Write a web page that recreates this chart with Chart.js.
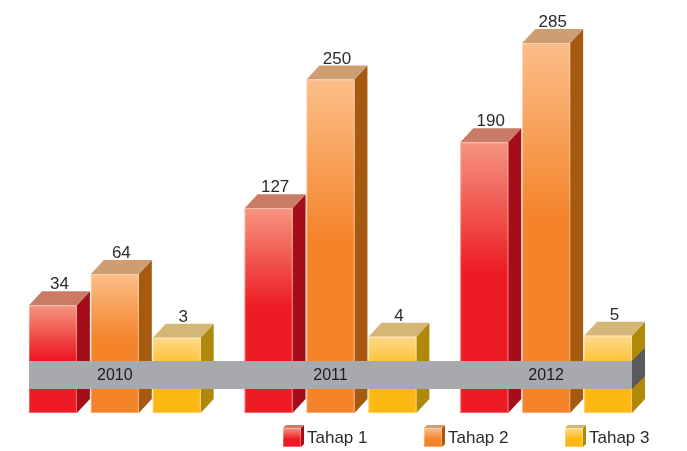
<!DOCTYPE html>
<html>
<head>
<meta charset="utf-8">
<script src="https://cdn.jsdelivr.net/npm/chart.js@4"></script>
<style>
  body { margin: 0; background: #fff; }
  #wrap { width: 687px; height: 451px; position: relative; }
</style>
</head>
<body>
<div id="wrap"><canvas id="chart"></canvas></div>
<script>
// Data
const years = ['2010', '2011', '2012'];
const seriesNames = ['Tahap 1', 'Tahap 2', 'Tahap 3'];
const tahap1 = [34, 127, 190];
const tahap2 = [64, 250, 285];
const tahap3 = [3, 4, 5];

// bars start below zero so the tiny values still show a block above the band
const axisMin = -69;
const axisMax = 307;

const palettes = [
    { light: '#f5957f', main: '#ed1c24', top: '#c97b66', side: '#a50e18' },
    { light: '#fbbe88', main: '#f4832a', top: '#ce9d72', side: '#a65a10' },
    { light: '#fed98c', main: '#fdb813', top: '#d4b677', side: '#b0880a' }
];

const DEPTH_X = 13;
const DEPTH_Y = 14;

function drawBox(ctx, x, y, w, h, dx, dy, pal, gradStop) {
    // right side
    ctx.fillStyle = pal.side;
    ctx.beginPath();
    ctx.moveTo(x + w, y);
    ctx.lineTo(x + w + dx, y - dy);
    ctx.lineTo(x + w + dx, y + h - dy);
    ctx.lineTo(x + w, y + h);
    ctx.closePath();
    ctx.fill();

    // top
    ctx.fillStyle = pal.top;
    ctx.beginPath();
    ctx.moveTo(x, y);
    ctx.lineTo(x + dx, y - dy);
    ctx.lineTo(x + w + dx, y - dy);
    ctx.lineTo(x + w, y);
    ctx.closePath();
    ctx.fill();

    // front with the light-to-solid fade
    const g = ctx.createLinearGradient(0, y, 0, y + h);
    g.addColorStop(0, pal.light);
    g.addColorStop(gradStop, pal.main);
    g.addColorStop(1, pal.main);
    ctx.fillStyle = g;
    ctx.fillRect(x, y, w, h);
    ctx.strokeStyle = 'rgba(255,255,255,0.3)';
    ctx.lineWidth = 1;
    ctx.strokeRect(x + 0.5, y + 0.5, w - 1, h - 1);
}

const bars3d = {
    id: 'bars3d',
    afterDatasetsDraw(chart) {
        const ctx = chart.ctx;
        const area = chart.chartArea;
        ctx.save();

        // bars, then their value labels
        chart.data.datasets.forEach((ds, di) => {
            const meta = chart.getDatasetMeta(di);
            meta.data.forEach((el, i) => {
                const p = el.getProps(['x', 'y', 'base', 'width'], true);
                const top = Math.min(p.y, p.base);
                const bottom = Math.max(p.y, p.base);
                const left = p.x - p.width / 2;
                drawBox(ctx, left, top, p.width, bottom - top, DEPTH_X, DEPTH_Y, palettes[di], 0.48);

                ctx.fillStyle = '#2b2b2b';
                ctx.font = '17px "Liberation Sans", Arial, sans-serif';
                ctx.textAlign = 'center';
                ctx.textBaseline = 'alphabetic';
                ctx.fillText(String(ds.values[i]), p.x + DEPTH_X / 2, top - DEPTH_Y - 2);
            });
        });

        // grey year band in front of the bars
        const first = chart.getDatasetMeta(0).data[0].getProps(['x', 'width'], true);
        const lastMeta = chart.getDatasetMeta(chart.data.datasets.length - 1);
        const last = lastMeta.data[lastMeta.data.length - 1].getProps(['x', 'width'], true);
        const bx0 = first.x - first.width / 2;
        const bx1 = last.x + last.width / 2;
        const by0 = area.bottom - 52;
        const by1 = area.bottom - 24;
        ctx.fillStyle = '#a7a9ac';
        ctx.fillRect(bx0, by0, bx1 - bx0, by1 - by0);
        ctx.fillStyle = '#58595b';
        ctx.beginPath();
        ctx.moveTo(bx1, by0);
        ctx.lineTo(bx1 + DEPTH_X, by0 - DEPTH_X);
        ctx.lineTo(bx1 + DEPTH_X, by1 - DEPTH_X);
        ctx.lineTo(bx1, by1);
        ctx.closePath();
        ctx.fill();

        const xs = chart.scales.x;
        ctx.fillStyle = '#1d1d1d';
        ctx.font = '16px "Liberation Sans", Arial, sans-serif';
        ctx.textAlign = 'center';
        ctx.textBaseline = 'middle';
        years.forEach((yr, i) => {
            ctx.fillText(yr, xs.getPixelForValue(i), (by0 + by1) / 2 + 1);
        });

        // legend with little cubes
        let lx = 283;
        seriesNames.forEach((name, i) => {
            drawBox(ctx, lx, 428, 18, 19, 3, 3, palettes[i], 0.6);
            ctx.fillStyle = '#2b2b2b';
            ctx.font = '17px "Liberation Sans", Arial, sans-serif';
            ctx.textAlign = 'left';
            ctx.textBaseline = 'middle';
            ctx.fillText(name, lx + 24, 438);
            lx += 141;
        });

        ctx.restore();
    }
};

const seriesValues = [tahap1, tahap2, tahap3];

new Chart(document.getElementById('chart'), {
    type: 'bar',
    data: {
        labels: years,
        datasets: seriesValues.map((vals, i) => ({
            label: seriesNames[i],
            values: vals,
            data: vals.map(v => [axisMin, v]),
            backgroundColor: 'rgba(0,0,0,0)',
            borderWidth: 0,
            categoryPercentage: 0.861,
            barPercentage: 0.774
        }))
    },
    options: {
        responsive: true,
        maintainAspectRatio: false,
        animation: false,
        layout: { padding: { left: 7, right: 33, top: 20, bottom: 38 } },
        scales: {
            x: { display: false },
            y: { display: false, min: axisMin, max: axisMax }
        },
        plugins: {
            legend: { display: false },
            tooltip: { enabled: false }
        }
    },
    plugins: [bars3d]
});
</script>
</body>
</html>
